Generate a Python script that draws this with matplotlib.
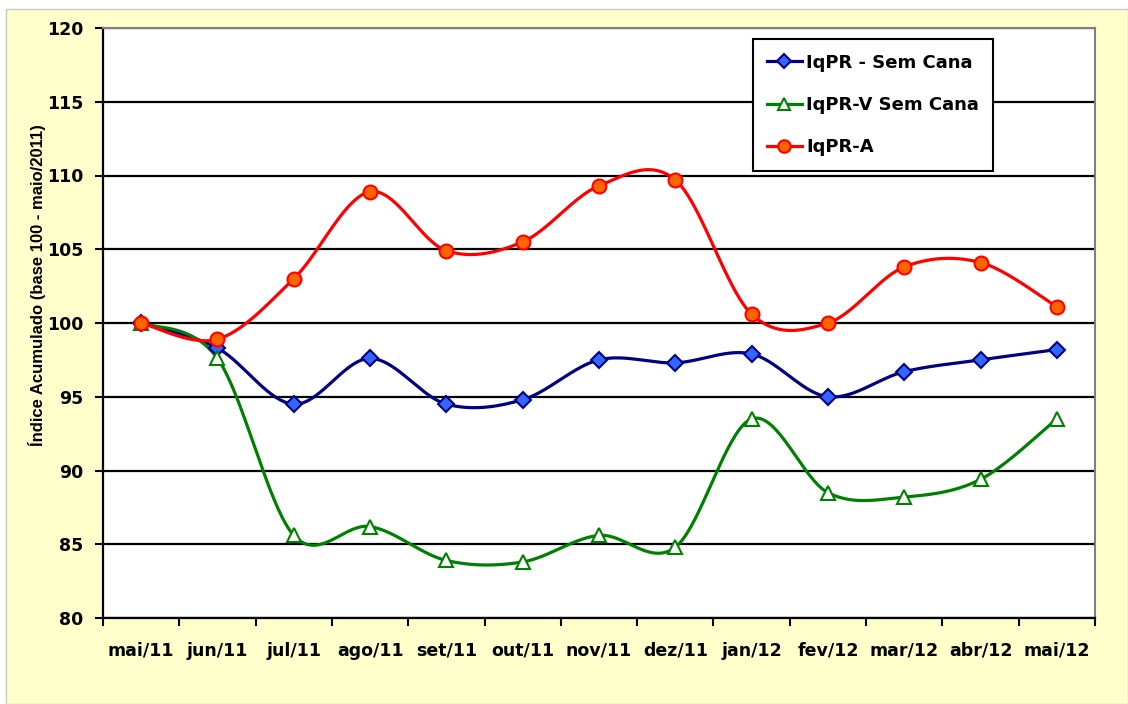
import numpy as np
import matplotlib
matplotlib.use("Agg")
import matplotlib.pyplot as plt
from matplotlib.patches import Rectangle

meses = ["mai/11", "jun/11", "jul/11", "ago/11", "set/11", "out/11", "nov/11",
         "dez/11", "jan/12", "fev/12", "mar/12", "abr/12", "mai/12"]

iqpr_sem_cana = [100.0, 98.3, 94.5, 97.6, 94.5, 94.8, 97.5, 97.3, 97.9, 95.0, 96.7, 97.5, 98.2]
iqpr_v_sem_cana = [100.0, 97.6, 85.6, 86.2, 83.9, 83.8, 85.6, 84.8, 93.5, 88.5, 88.2, 89.4, 93.5]
iqpr_a = [100.0, 98.9, 103.0, 108.9, 104.9, 105.5, 109.3, 109.7, 100.6, 100.0, 103.8, 104.1, 101.1]


def suavizar(xs, ys, n=40):
    # curva suave tipo Excel (Catmull-Rom -> Bezier cubica)
    p = np.column_stack([xs, ys]).astype(float)
    ext = np.vstack([p[0], p, p[-1]])
    t = np.linspace(0, 1, n)[:, None]
    out = []
    for i in range(len(p) - 1):
        p0, p3 = ext[i + 1], ext[i + 2]
        c1 = p0 + (ext[i + 2] - ext[i]) / 6.0
        c2 = p3 - (ext[i + 3] - ext[i + 1]) / 6.0
        seg = ((1 - t) ** 3) * p0 + 3 * ((1 - t) ** 2) * t * c1 + 3 * (1 - t) * t ** 2 * c2 + t ** 3 * p3
        out.append(seg if i == 0 else seg[1:])
    out = np.vstack(out)
    return out[:, 0], out[:, 1]


fig = plt.figure(figsize=(11.28, 7.04), dpi=100)
fig.patch.set_facecolor("white")
fig.patches.append(Rectangle((6 / 1128, 0), 1 - 6 / 1128, 1 - 9 / 704, transform=fig.transFigure,
                             facecolor="#FFFFCC", edgecolor="#C8C8C8", linewidth=1, zorder=-1))

ax = fig.add_axes([103 / 1128, 1 - 618 / 704, 992 / 1128, 590 / 704])
ax.set_facecolor("white")

x = np.arange(len(meses))
series = [
    (iqpr_sem_cana, "IqPR - Sem Cana", "#000080", "D", "#3366FF", 8),
    (iqpr_v_sem_cana, "IqPR-V Sem Cana", "#008000", "^", "white", 10),
    (iqpr_a, "IqPR-A", "#FF0000", "o", "#FF6600", 10),
]
for vals, nome, cor, mk, face, ms in series:
    sx, sy = suavizar(x, vals)
    ax.plot(sx, sy, color=cor, linewidth=2.3, zorder=3)
    ax.plot(x, vals, linestyle="none", marker=mk, markersize=ms, markerfacecolor=face,
            markeredgecolor=cor, markeredgewidth=1.5, zorder=4)
    ax.plot([], [], color=cor, linewidth=2.3, marker=mk, markersize=ms - 1,
            markerfacecolor=face, markeredgecolor=cor, markeredgewidth=1.5, label=nome)

ax.set_xlim(-0.5, len(meses) - 0.5)
ax.set_ylim(80, 120)
ax.set_yticks(np.arange(80, 121, 5))
ax.yaxis.grid(True, color="black", linewidth=1.6, zorder=1)
ax.set_axisbelow(True)

ax.set_xticks(np.arange(-0.5, len(meses), 1.0))
ax.set_xticklabels([])
ax.set_xticks(x, minor=True)
ax.set_xticklabels(meses, minor=True)
ax.tick_params(axis="x", which="major", direction="out", length=6, width=1.5)
ax.tick_params(axis="x", which="minor", length=0, pad=17)
ax.tick_params(axis="y", direction="out", length=6, width=1.5, pad=8)

for lab in ax.get_xticklabels(minor=True) + ax.get_yticklabels():
    lab.set_fontfamily("DejaVu Sans")
    lab.set_fontweight("bold")
    lab.set_fontsize(12.5)

ax.spines["left"].set_linewidth(1.6)
ax.spines["bottom"].set_linewidth(1.6)
ax.spines["right"].set_color("#808080")
ax.spines["top"].set_color("#808080")
ax.spines["right"].set_linewidth(1.5)
ax.spines["top"].set_linewidth(1.5)

fig.text(37 / 1128, 1 - 285 / 704, "Índice Acumulado (base 100 - maio/2011)", rotation=90,
         ha="center", va="center", fontsize=12, fontweight="bold", family="Liberation Sans")

leg = ax.legend(loc="upper left", bbox_to_anchor=(0.655, 0.981), borderaxespad=0,
                frameon=True, fancybox=False,
                edgecolor="black", framealpha=1, handlelength=1.9, handletextpad=0.25,
                labelspacing=1.35, borderpad=0.8,
                prop={"family": "DejaVu Sans", "weight": "bold", "size": 13})
leg.get_frame().set_linewidth(1.5)
leg.set_zorder(5)

fig.savefig("out.png", dpi=100)
